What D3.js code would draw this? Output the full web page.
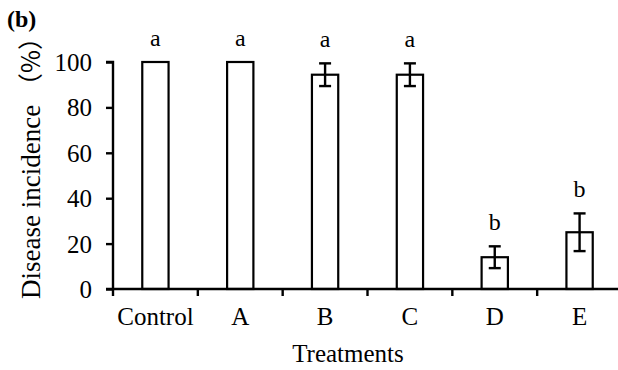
<!DOCTYPE html>
<html lang="en">
    <head>
        <meta charset="utf-8">
        <title>Disease incidence</title>
        <script type="text/javascript" src="https://cdn.jsdelivr.net/npm/d3@7"></script>
        <style>
            body { margin: 0; background: #fff; }
            svg text { font-family: "Liberation Serif", "Noto Sans CJK SC", serif; fill: #000; }
        </style>
    </head>
    <body>
        <script type="text/javascript">
            // data
            var treatments = ["Control", "A", "B", "C", "D", "E"]
            var incidence = [100, 100, 94.4, 94.4, 14, 25]
            var errors = [0, 0, 5, 5, 4.8, 8.3]
            var letters = ["a", "a", "a", "a", "b", "b"]
            var yTicks = [0, 20, 40, 60, 80, 100]

            var width = 618, height = 370
            var mLeft = 113, mRight = 622, mTop = 62, mBottom = 289

            var svg = d3.select("body").append("svg")
                .attr("width", width)
                .attr("height", height)

            var x = d3.scaleBand().domain(treatments).range([mLeft, mRight])
            var y = d3.scaleLinear().domain([0, 100]).range([mBottom, mTop])
            var barW = x.bandwidth() * 0.31
            function cx(d) { return x(d) + x.bandwidth() / 2 }

            // bars
            svg.selectAll("rect.bar").data(treatments).enter()
                .append("rect")
                .attr("x", function (d) { return cx(d) - barW / 2 })
                .attr("y", function (d, i) { return y(incidence[i]) })
                .attr("width", barW)
                .attr("height", function (d, i) { return mBottom - y(incidence[i]) })
                .attr("fill", "#fff")
                .attr("stroke", "#000")
                .attr("stroke-width", 2.2)

            // error bars (only where there is an error)
            treatments.forEach(function (d, i) {
                if (errors[i] <= 0) return
                var hi = y(incidence[i] + errors[i]), lo = y(incidence[i] - errors[i])
                var g = svg.append("g").attr("stroke", "#000").attr("stroke-width", 2.4)
                g.append("line").attr("x1", cx(d)).attr("x2", cx(d)).attr("y1", hi).attr("y2", lo)
                g.append("line").attr("x1", cx(d) - 6).attr("x2", cx(d) + 6).attr("y1", hi).attr("y2", hi)
                g.append("line").attr("x1", cx(d) - 6).attr("x2", cx(d) + 6).attr("y1", lo).attr("y2", lo)
            })

            // significance letters
            svg.selectAll("text.letter").data(treatments).enter()
                .append("text")
                .attr("x", cx)
                .attr("y", function (d, i) { return y(incidence[i] + errors[i]) - 16 })
                .attr("text-anchor", "middle")
                .style("font-size", "24px")
                .text(function (d, i) { return letters[i] })

            // y axis
            var yAxis = svg.append("g")
                .attr("transform", "translate(" + mLeft + ",0)")
                .call(d3.axisLeft(y).tickValues(yTicks).tickSize(7).tickPadding(14))
            yAxis.attr("font-family", null).attr("font-size", null)
            yAxis.select(".domain").attr("stroke-width", 2.4).attr("d", "M-7," + mTop + "H0V" + mBottom)
            yAxis.selectAll(".tick line").attr("stroke-width", 2.4)
            yAxis.selectAll(".tick text")
                .style("font-family", "'Liberation Serif', serif")
                .style("font-size", "25px")
                .attr("dy", "0.34em")

            // x axis, ticks at band edges
            var xAxis = svg.append("g")
                .attr("transform", "translate(0," + mBottom + ")")
            xAxis.append("line")
                .attr("x1", mLeft - 7).attr("x2", mRight)
                .attr("stroke", "#000").attr("stroke-width", 2.4)
            xAxis.selectAll("line.tk").data(treatments).enter()
                .append("line")
                .attr("x1", function (d) { return x(d) }).attr("x2", function (d) { return x(d) })
                .attr("y1", 0).attr("y2", 7)
                .attr("stroke", "#000").attr("stroke-width", 2.4)
            xAxis.selectAll("text.tl").data(treatments).enter()
                .append("text")
                .attr("x", cx)
                .attr("y", 36)
                .attr("text-anchor", "middle")
                .style("font-size", "25px")
                .text(function (d) { return d })

            // titles
            svg.append("text")
                .attr("x", 348).attr("y", 362)
                .attr("text-anchor", "middle")
                .style("font-size", "25px")
                .text("Treatments")

            var yLabel = svg.append("text")
                .attr("transform", "translate(40,299) rotate(-90)")
                .attr("text-anchor", "start")
                .style("font-size", "27px")
                .style("font-family", "'Liberation Serif', serif")
            yLabel.append("tspan").text("Disease incidence ")
            yLabel.append("tspan")
                .style("font-family", "'Noto Sans CJK SC', sans-serif")
                .style("font-size", "25px")
                .text("（%）")

            svg.append("text")
                .attr("x", 7).attr("y", 27)
                .style("font-size", "24px")
                .style("font-weight", "bold")
                .text("(b)")
        </script>
    </body>
</html>
